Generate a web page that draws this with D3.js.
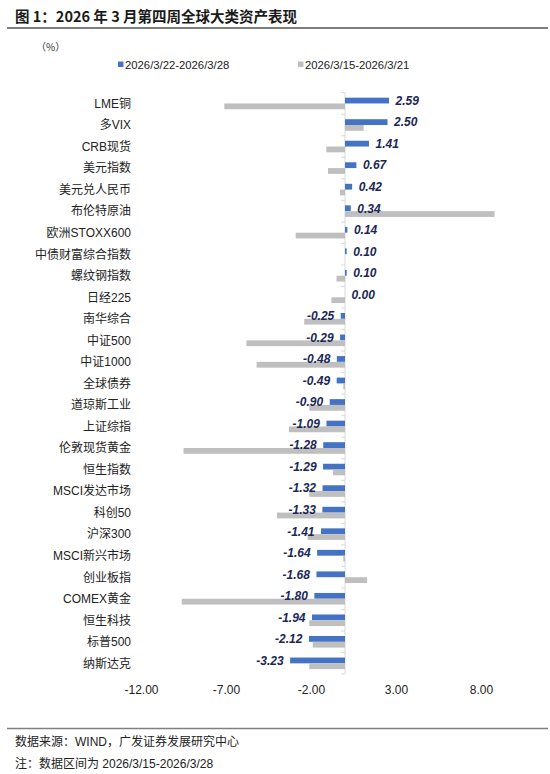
<!DOCTYPE html>
<html><head><meta charset="utf-8">
<script src="https://cdn.jsdelivr.net/npm/d3@7/dist/d3.min.js"></script>
<style>
html,body{margin:0;padding:0;background:#fff;}
svg{display:block;font-family:"Liberation Sans","Noto Sans CJK SC",Arial,sans-serif;}
</style></head>
<body>
<svg id="c" width="550" height="774"></svg>
<script>
const categories = ["LME铜","多VIX","CRB现货","美元指数","美元兑人民币","布伦特原油","欧洲STOXX600","中债财富综合指数","螺纹钢指数","日经225","南华综合","中证500","中证1000","全球债券","道琼斯工业","上证综指","伦敦现货黄金","恒生指数","MSCI发达市场","科创50","沪深300","MSCI新兴市场","创业板指","COMEX黄金","恒生科技","标普500","纳斯达克"];
const currentWeek = [2.59,2.50,1.41,0.67,0.42,0.34,0.14,0.10,0.10,0.00,-0.25,-0.29,-0.48,-0.49,-0.90,-1.09,-1.28,-1.29,-1.32,-1.33,-1.41,-1.64,-1.68,-1.80,-1.94,-2.12,-3.23];
const previousWeek = [-7.1,1.1,-1.1,-1.0,-0.3,8.8,-2.9,0.0,-0.5,-0.8,-2.4,-5.8,-5.2,-0.1,-2.1,-3.3,-9.5,-0.7,-2.1,-4.0,-2.2,-0.1,1.3,-9.6,-2.1,-1.9,-2.1];
const seriesNames = ["2026/3/22-2026/3/28","2026/3/15-2026/3/21"];
const xTicks = [-12,-7,-2,3,8];

const colors = ["#4472C4","#BFBFBF"];
const svg = d3.select("#c");

// Title
svg.append("text").attr("x",15).attr("y",21.5)
  .attr("font-size",14.5).attr("font-weight","bold").attr("fill","#1a1a1a")
  .attr("font-family","'Noto Sans CJK SC','Liberation Sans',sans-serif")
  .text("图 1：2026 年 3 月第四周全球大类资产表现");
svg.append("line").attr("x1",7).attr("x2",548).attr("y1",28).attr("y2",28)
  .attr("stroke","#7f7f7f").attr("stroke-width",2);
svg.append("line").attr("x1",7).attr("x2",548).attr("y1",728.5).attr("y2",728.5)
  .attr("stroke","#7f7f7f").attr("stroke-width",1.5);

// unit
svg.append("text").attr("x",36).attr("y",51).attr("font-size",10).attr("fill","#333")
  .attr("font-family","'Noto Sans CJK SC',sans-serif").text("（%）");

// legend
const legX = [118, 298];
seriesNames.forEach((n,i)=>{
  svg.append("rect").attr("x",legX[i]).attr("y",61.5).attr("width",5.5).attr("height",5.5).attr("fill",colors[i]);
  svg.append("text").attr("x",legX[i]+7).attr("y",64.5).attr("dy","0.36em")
    .attr("font-size",11.3).attr("fill","#222").text(n);
});

// scales
const x = d3.scaleLinear().domain([-12,8]).range([141,481]);
const y = d3.scaleBand().domain(categories).range([92.7,674.1]).padding(0);
const sub = d3.scaleBand().domain([0,1]).range([0,y.bandwidth()]).paddingInner(0).paddingOuter(0.86);

const x0 = x(0);

// axis line + ticks at band boundaries
svg.append("line").attr("x1",x0).attr("x2",x0).attr("y1",y.range()[0]).attr("y2",y.range()[1])
  .attr("stroke","#d9d9d9").attr("stroke-width",1);
const bounds = categories.map(c=>y(c)).concat([y(categories[categories.length-1])+y.bandwidth()]);
svg.append("g").selectAll("line").data(bounds).join("line")
  .attr("x1",x0-4).attr("x2",x0).attr("y1",d=>d).attr("y2",d=>d)
  .attr("stroke","#d9d9d9").attr("stroke-width",1);

// bars
const series = [currentWeek, previousWeek];
series.forEach((vals,si)=>{
  svg.append("g").selectAll("rect").data(vals).join("rect")
    .attr("x",d=>Math.min(x(d),x0))
    .attr("width",d=>Math.abs(x(d)-x0))
    .attr("y",(d,i)=>y(categories[i])+sub(si))
    .attr("height",sub.bandwidth())
    .attr("fill",colors[si]);
});

// value labels
svg.append("g").selectAll("text").data(currentWeek).join("text")
  .attr("x",d=> d<0 ? x(d)-6.5 : x(d)+6.5)
  .attr("y",(d,i)=>y(categories[i])+sub(0)+sub.bandwidth()/2)
  .attr("dy","0.36em")
  .attr("text-anchor",d=> d<0 ? "end":"start")
  .attr("font-size",12).attr("font-weight","bold").attr("font-style","italic")
  .attr("fill","#1b2757")
  .text(d=>d.toFixed(2));

// category labels
svg.append("g").selectAll("text").data(categories).join("text")
  .attr("x",131).attr("y",d=>y(d)+y.bandwidth()/2).attr("dy","0.36em")
  .attr("text-anchor","end").attr("font-size",12).attr("fill","#222")
  .text(d=>d);

// x axis
const xAxis = d3.axisBottom(x).tickValues(xTicks).tickFormat(d=>d.toFixed(2)).tickSize(0).tickPadding(0);
const gx = svg.append("g").attr("transform","translate(0,685)").call(xAxis);
gx.select(".domain").remove();
gx.selectAll("text").attr("font-size",12).attr("fill","#222")
  .attr("font-family","'Liberation Sans',Arial,sans-serif");

// footer
svg.append("text").attr("x",15).attr("y",742).attr("dy","0.36em").attr("font-size",12).attr("fill","#222")
  .text("数据来源：WIND，广发证券发展研究中心");
svg.append("text").attr("x",15).attr("y",763.5).attr("dy","0.36em").attr("font-size",12).attr("fill","#222")
  .text("注：数据区间为 2026/3/15-2026/3/28");
</script>
</body></html>
